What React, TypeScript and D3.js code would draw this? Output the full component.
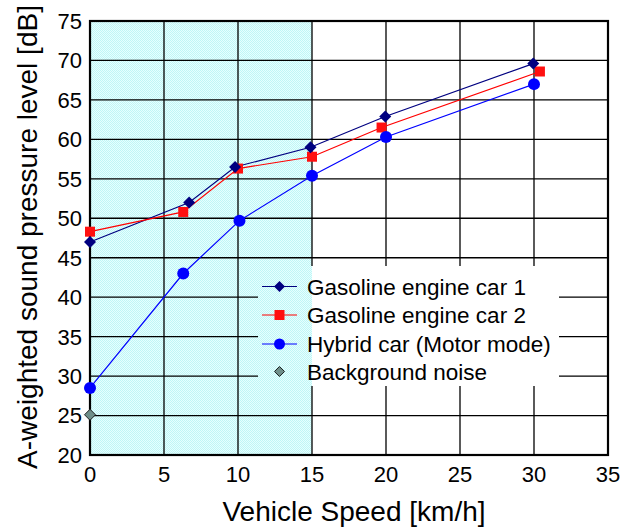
import React from "react";
import * as d3 from "d3";

const speedCar1 = [0, 6.7, 9.8, 14.9, 19.95, 29.95];
const levelCar1 = [47.0, 52.0, 56.5, 59.0, 62.9, 69.6];
const speedCar2 = [0, 6.3, 10.0, 15.0, 19.7, 30.4];
const levelCar2 = [48.3, 50.8, 56.3, 57.8, 61.5, 68.6];
const speedHybrid = [0, 6.3, 10.1, 15.0, 20.0, 30.0];
const levelHybrid = [28.5, 43.0, 49.7, 55.4, 60.3, 67.0];
const speedNoise = [0];
const levelNoise = [25.1];
const xTicks = [0, 5, 10, 15, 20, 25, 30, 35];
const yTicks = [20, 25, 30, 35, 40, 45, 50, 55, 60, 65, 70, 75];
const shadedRange = [0, 15];
const legendLabels = [
  "Gasoline engine car 1",
  "Gasoline engine car 2",
  "Hybrid car (Motor mode)",
  "Background noise",
];

const W = 621;
const H = 529;
const left = 90;
const right = 608;
const top = 21;
const bottom = 455;
const font = "'Liberation Sans', Arial, sans-serif";

export default function App() {
  const x = d3.scaleLinear().domain([0, 35]).range([left, right]);
  const y = d3.scaleLinear().domain([20, 75]).range([bottom, top]);
  const line = d3
    .line<[number, number]>()
    .x((d) => x(d[0]))
    .y((d) => y(d[1]));

  const zip = (a: number[], b: number[]) => a.map((v, i) => [v, b[i]] as [number, number]);
  const car1 = zip(speedCar1, levelCar1);
  const car2 = zip(speedCar2, levelCar2);
  const hyb = zip(speedHybrid, levelHybrid);
  const noise = zip(speedNoise, levelNoise);

  const diamond = (cx: number, cy: number, r: number) =>
    `M${cx},${cy - r}L${cx + r},${cy}L${cx},${cy + r}L${cx - r},${cy}Z`;

  const legend = { x0: 258, x1: 559, y0: 266, y1: 386 };
  const legRows = [286.5, 315, 344, 371.5];
  const legLine = [262, 297];
  const legMid = 279.5;
  const legText = 307;

  const shadeX0 = x(shadedRange[0]);
  const shadeX1 = x(shadedRange[1]);

  return (
    <svg width={W} height={H} style={{ display: "block", position: "absolute", left: 0, top: 0 }}>
      <defs>
        <pattern id="dots" width="2" height="2" patternUnits="userSpaceOnUse">
          <rect width="2" height="2" fill="#e6ffff" />
          <rect width="1" height="1" fill="#c0f6f6" />
          <rect x="1" y="1" width="1" height="1" fill="#c0f6f6" />
        </pattern>
      </defs>
      <rect width={W} height={H} fill="#fff" />
      <rect x={shadeX0} y={top} width={shadeX1 - shadeX0} height={bottom - top} fill="url(#dots)" />
      {yTicks.map((t) => (
        <line key={"gy" + t} x1={left} x2={right} y1={y(t)} y2={y(t)} stroke="#000" strokeWidth={1.3} />
      ))}
      {xTicks.map((t) => (
        <line key={"gx" + t} x1={x(t)} x2={x(t)} y1={top} y2={bottom} stroke="#000" strokeWidth={1.3} />
      ))}
      {/* legend mask */}
      <rect x={legend.x0} y={legend.y0} width={legend.x1 - legend.x0} height={legend.y1 - legend.y0} fill="#fff" />
      <rect
        x={legend.x0}
        y={legend.y0}
        width={shadeX1 - legend.x0}
        height={legend.y1 - legend.y0}
        fill="url(#dots)"
      />
      <rect x={left} y={top} width={right - left} height={bottom - top} fill="none" stroke="#000" strokeWidth={2.2} />

      {/* series lines */}
      <path d={line(car1) || ""} fill="none" stroke="#000080" strokeWidth={1.2} />
      <path d={line(car2) || ""} fill="none" stroke="#ff0000" strokeWidth={1.2} />
      <path d={line(hyb) || ""} fill="none" stroke="#0000ff" strokeWidth={1.2} />

      {car2.map((d, i) => (
        <rect key={"m2" + i} x={x(d[0]) - 5} y={y(d[1]) - 5} width={10} height={10} fill="#ff1010" />
      ))}
      {car1.map((d, i) => (
        <path key={"m1" + i} d={diamond(x(d[0]), y(d[1]), 6)} fill="#000080" />
      ))}
      {hyb.map((d, i) => (
        <circle key={"m3" + i} cx={x(d[0])} cy={y(d[1])} r={6} fill="#0000ff" />
      ))}
      {noise.map((d, i) => (
        <path key={"m4" + i} d={diamond(x(d[0]), y(d[1]), 5.5)} fill="#6f8f8a" stroke="#222" strokeWidth={1} />
      ))}

      {/* legend */}
      <line x1={legLine[0]} x2={legLine[1]} y1={legRows[0]} y2={legRows[0]} stroke="#000080" strokeWidth={1.2} />
      <path d={diamond(legMid, legRows[0], 5.5)} fill="#000080" />
      <line x1={legLine[0]} x2={legLine[1]} y1={legRows[1]} y2={legRows[1]} stroke="#ff0000" strokeWidth={1.2} />
      <rect x={legMid - 5} y={legRows[1] - 5} width={10} height={10} fill="#ff1010" />
      <line x1={legLine[0]} x2={legLine[1]} y1={legRows[2]} y2={legRows[2]} stroke="#0000ff" strokeWidth={1.2} />
      <circle cx={legMid} cy={legRows[2]} r={5.5} fill="#0000ff" />
      <path d={diamond(legMid, legRows[3], 5)} fill="#6f8f8a" stroke="#222" strokeWidth={1} />
      {legendLabels.map((l, i) => (
        <text key={l} x={legText} y={legRows[i]} dy="0.36em" fontFamily={font} fontSize={22.5} fill="#000">
          {l}
        </text>
      ))}

      {/* tick labels */}
      {yTicks.map((t) => (
        <text
          key={"ty" + t}
          x={left - 8}
          y={y(t)}
          dy="0.36em"
          textAnchor="end"
          fontFamily={font}
          fontSize={22}
          fill="#000"
        >
          {t}
        </text>
      ))}
      {xTicks.map((t) => (
        <text key={"tx" + t} x={x(t)} y={482} textAnchor="middle" fontFamily={font} fontSize={22} fill="#000">
          {t}
        </text>
      ))}
      <text x={354} y={521} textAnchor="middle" fontFamily={font} fontSize={28} fill="#000">
        Vehicle Speed [km/h]
      </text>
      <text
        transform={`translate(37,237) rotate(-90)`}
        textAnchor="middle"
        fontFamily={font}
        fontSize={28}
        fill="#000"
      >
        A-weighted sound pressure level [dB]
      </text>
    </svg>
  );
}
